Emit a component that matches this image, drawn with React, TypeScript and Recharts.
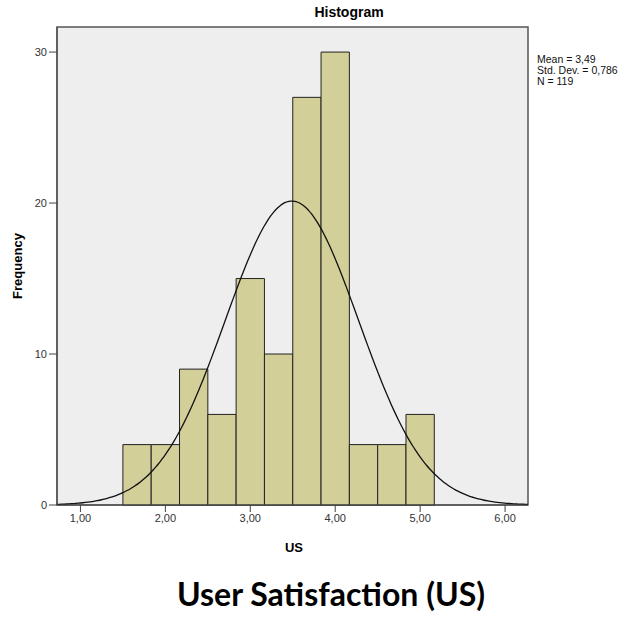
import { ComposedChart, Line, XAxis, YAxis, ReferenceArea } from 'recharts';

// histogram bins of US scores (width 1/3, starting at 1.5)
const binStarts = [1.5, 1.8333, 2.1667, 2.5, 2.8333, 3.1667, 3.5, 3.8333, 4.1667, 4.5, 4.8333];
const binWidth = 1 / 3;
const counts = [4, 4, 9, 6, 15, 10, 27, 30, 4, 4, 6];

// summary stats printed next to the plot
const mean = 3.49;
const stdDev = 0.786;
const n = 119;

const xTicks = [1, 2, 3, 4, 5, 6];
const yTicks = [0, 10, 20, 30];
const xDomain: [number, number] = [0.724, 6.27];
const yDomain: [number, number] = [0, 31.66];

// fitted normal curve scaled to frequency per bin
const curve = Array.from({ length: 201 }, (_, i) => {
  const x = xDomain[0] + (i / 200) * (xDomain[1] - xDomain[0]);
  const z = (x - mean) / stdDev;
  const y = (n * binWidth) / (stdDev * Math.sqrt(2 * Math.PI)) * Math.exp(-0.5 * z * z);
  return { x, y };
});

const fmt = (v: number) => v.toFixed(2).replace('.', ',');

const sans = '"Liberation Sans", Arial, sans-serif';

export default function App() {
  return (
    <div style={{ position: 'relative', width: 632, height: 617, background: '#fff', fontFamily: sans }}>
      <style>{`body{margin:0}`}</style>
      <ComposedChart
        width={632}
        height={617}
        data={curve}
        margin={{ top: 27, right: 104, left: 27, bottom: 82 }}
      >
        <XAxis
          dataKey="x"
          type="number"
          domain={xDomain}
          ticks={xTicks}
          allowDataOverflow
          tickFormatter={fmt}
          height={30}
          stroke="#444"
          tickSize={7}
          tick={{ fill: '#333', fontSize: 11, fontFamily: sans }}
        />
        <YAxis
          type="number"
          domain={yDomain}
          ticks={yTicks}
          allowDataOverflow
          width={30}
          stroke="#444"
          tickSize={8}
          tick={{ fill: '#333', fontSize: 11, fontFamily: sans }}
        />
        <ReferenceArea
          x1={xDomain[0]}
          x2={xDomain[1]}
          y1={yDomain[0]}
          y2={yDomain[1]}
          fill="#eeeeee"
          fillOpacity={1}
          stroke="#555"
          strokeWidth={1.5}
        />
        {counts.map((c, i) => (
          <ReferenceArea
            key={i}
            x1={binStarts[i]}
            x2={binStarts[i] + binWidth}
            y1={0}
            y2={c}
            fill="#d3cf98"
            fillOpacity={1}
            stroke="#222"
            strokeWidth={1}
          />
        ))}
        <Line
          dataKey="y"
          type="monotone"
          stroke="#111"
          strokeWidth={1.3}
          dot={false}
          isAnimationActive={false}
        />
      </ComposedChart>

      <div style={{ position: 'absolute', left: 0, width: 698, top: 4, textAlign: 'center', fontWeight: 'bold', fontSize: 14 }}>
        Histogram
      </div>
      <div style={{ position: 'absolute', left: 537, top: 54, fontSize: 10.5, lineHeight: '11px', color: '#111' }}>
        <div>Mean = {fmt(mean)}</div>
        <div>Std. Dev. = {stdDev.toFixed(3).replace('.', ',')}</div>
        <div>N = {n}</div>
      </div>
      <div
        style={{
          position: 'absolute', left: 17, top: 266, transform: 'translate(-50%, -50%) rotate(-90deg)',
          fontWeight: 'bold', fontSize: 13, whiteSpace: 'nowrap',
        }}
      >
        Frequency
      </div>
      <div style={{ position: 'absolute', left: 0, width: 588, top: 540, textAlign: 'center', fontWeight: 'bold', fontSize: 13 }}>
        US
      </div>
      <div
        style={{
          position: 'absolute', left: 0, width: 662, top: 574, textAlign: 'center',
          fontWeight: 'bold', fontSize: 32, fontFamily: 'Lato, "Open Sans", sans-serif', color: '#000',
        }}
      >
        User Satisfaction (US)
      </div>
    </div>
  );
}
